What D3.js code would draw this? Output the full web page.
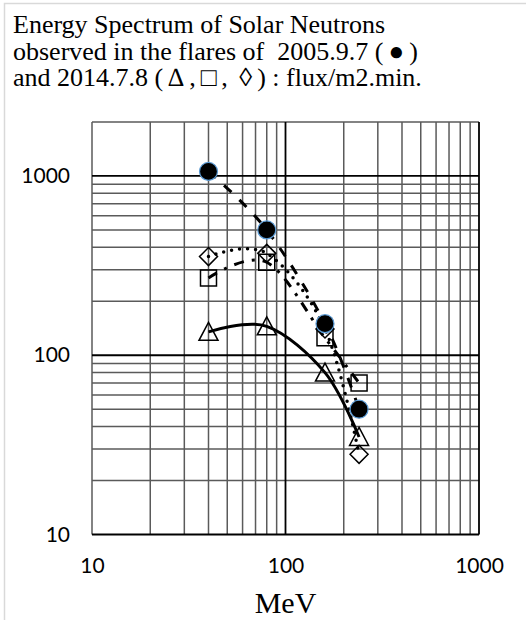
<!DOCTYPE html>
<html>
<head>
<meta charset="utf-8">
<script src="https://cdn.jsdelivr.net/npm/d3@7"></script>
<style>
  html, body { margin: 0; padding: 0; background: #fff; }
  svg { display: block; }
  .title { font-family: 'Liberation Serif', 'Times New Roman', serif; font-size: 26px; fill: #000; white-space: pre; }
  .tick text { font-family: Lato, 'Open Sans', sans-serif; font-size: 21px; fill: #000; }
  .x-title { font-family: 'Liberation Serif', 'Times New Roman', serif; font-size: 30px; fill: #000; }
</style>
</head>
<body>
<div id="chart"></div>
<script>
// energies (MeV) and fluxes (flux/m2.min)
const energy = [40, 80, 160, 240];
const flux2005 = [1060, 500, 150, 50];        // filled circles
const fluxTriangle = [135, 145, 80, 35];      // 2014.7.8, triangles
const fluxSquare = [270, 330, 125, 70];       // 2014.7.8, squares
const fluxDiamond = [355, 370, 140, 28];      // 2014.7.8, diamonds

const titleLines = [
  'Energy Spectrum of Solar Neutrons',
  'observed in the flares of  2005.9.7 (\u25CF)',
  'and 2014.7.8 (\u2206,\u25A1, \u25CA) : flux/m2.min.',
];
const xTickValues = [10, 100, 1000];
const yTickValues = [10, 100, 1000];
const xLabel = 'MeV';

const width = 526, height = 620;
const plot = { left: 92, right: 479, top: 122, bottom: 534.5 };

const svg = d3.select('#chart')
  .append('svg')
  .attr('width', width)
  .attr('height', height);

// chart area border (light grey, runs off the right/bottom edge)
svg.append('rect')
  .attr('x', 4.5)
  .attr('y', 3.5)
  .attr('width', width + 20)
  .attr('height', height + 20)
  .attr('fill', '#fff')
  .attr('stroke', '#d9d9d9')
  .attr('stroke-width', 1.5);

// title: the marker symbols are full-width glyphs in the original,
// so give them some room on both sides
const symbolRe = /([\u25CF\u2206\u25A1\u25CA])/;
const splitLine = (str) => {
  const parts = str.split(symbolRe).filter((s) => s !== '');
  return parts.map((s, i) => ({
    s,
    sym: symbolRe.test(s),
    afterSym: i > 0 && symbolRe.test(parts[i - 1]),
  }));
};

svg.append('g')
  .selectAll('text')
  .data(titleLines)
  .join('text')
  .attr('class', 'title')
  .attr('x', 13)
  .attr('y', (d, i) => 33 + i * 26.5)
  .selectAll('tspan')
  .data((d) => splitLine(d))
  .join('tspan')
  .attr('dx', (p) => (p.sym || p.afterSym ? 5 : 0))
  .text((p) => p.s);

const x = d3.scaleLog().domain([10, 1000]).range([plot.left, plot.right]);
const y = d3.scaleLog().domain([10, 2000]).range([plot.bottom, plot.top]);

const isMajor = (v) => Math.abs(Math.log10(v) - Math.round(Math.log10(v))) < 1e-9;

// grid: minor lines first, then the decades on top
const grid = svg.append('g').attr('class', 'grid');
const xGrid = x.ticks();
const yGrid = y.ticks();

grid.selectAll('line.vminor')
  .data(xGrid.filter((v) => !isMajor(v) || v === 10))
  .join('line')
  .attr('class', 'vminor')
  .attr('x1', (d) => x(d)).attr('x2', (d) => x(d))
  .attr('y1', plot.top).attr('y2', plot.bottom)
  .attr('stroke', '#5a5a5a')
  .attr('stroke-width', 1.5);

grid.selectAll('line.hminor')
  .data(yGrid.filter((v) => !isMajor(v)))
  .join('line')
  .attr('class', 'hminor')
  .attr('x1', plot.left).attr('x2', plot.right)
  .attr('y1', (d) => y(d)).attr('y2', (d) => y(d))
  .attr('stroke', '#5a5a5a')
  .attr('stroke-width', 1.5);

grid.selectAll('line.vmajor')
  .data(xGrid.filter((v) => isMajor(v) && v !== 10))
  .join('line')
  .attr('class', 'vmajor')
  .attr('x1', (d) => x(d)).attr('x2', (d) => x(d))
  .attr('y1', plot.top).attr('y2', plot.bottom)
  .attr('stroke', '#000')
  .attr('stroke-width', 1.8);

grid.selectAll('line.hmajor')
  .data(yGrid.filter((v) => isMajor(v)))
  .join('line')
  .attr('class', 'hmajor')
  .attr('x1', plot.left).attr('x2', plot.right)
  .attr('y1', (d) => y(d)).attr('y2', (d) => y(d))
  .attr('stroke', '#000')
  .attr('stroke-width', 1.8);

// axes (labels only)
svg.append('g')
  .attr('class', 'axis')
  .attr('transform', `translate(${plot.left},0)`)
  .call(d3.axisLeft(y).tickValues(yTickValues).tickFormat(d3.format('d')).tickSize(0).tickPadding(22))
  .call((g) => g.select('.domain').remove());

svg.append('g')
  .attr('class', 'axis')
  .attr('transform', `translate(0,${plot.bottom})`)
  .call(d3.axisBottom(x).tickValues(xTickValues).tickFormat(d3.format('d')).tickSize(0).tickPadding(23.5))
  .call((g) => g.select('.domain').remove());

svg.append('text')
  .attr('class', 'x-title')
  .attr('x', x(100))
  .attr('y', 613)
  .attr('text-anchor', 'middle')
  .text(xLabel);

// Excel-style smoothed lines
const line = d3.line()
  .x((d) => x(d[0]))
  .y((d) => y(d[1]))
  .curve(d3.curveCardinal.tension(0));

const series = [
  { values: fluxTriangle, marker: 'triangle', dash: null, cap: 'butt' },
  { values: fluxSquare, marker: 'square', dash: '10,8,3,8', cap: 'butt' },
  { values: fluxDiamond, marker: 'diamond', dash: '0,8', cap: 'round' },
  { values: flux2005, marker: 'circle', dash: '10,11', cap: 'butt' },
];

const markerPath = {
  triangle: 'M0,-9.5L9.5,8.5L-9.5,8.5Z',
  square: 'M-8,-8H8V8H-8Z',
  diamond: 'M0,-9L9,0L0,9L-9,0Z',
};

series.forEach((s) => {
  const pts = energy.map((e, i) => [e, s.values[i]]);
  const g = svg.append('g').attr('class', `series ${s.marker}`);

  g.append('path')
    .datum(pts)
    .attr('d', line)
    .attr('fill', 'none')
    .attr('stroke', '#000')
    .attr('stroke-width', s.marker === 'diamond' ? 3.5 : 3)
    .attr('stroke-linecap', s.cap)
    .attr('stroke-dasharray', s.dash);

  if (s.marker === 'circle') {
    g.selectAll('circle')
      .data(pts)
      .join('circle')
      .attr('cx', (d) => x(d[0]))
      .attr('cy', (d) => y(d[1]))
      .attr('r', 9)
      .attr('fill', '#000')
      .attr('stroke', '#5b9bd5')
      .attr('stroke-width', 1.2);
  } else {
    g.selectAll('path.marker')
      .data(pts)
      .join('path')
      .attr('class', 'marker')
      .attr('transform', (d) => `translate(${x(d[0])},${y(d[1])})`)
      .attr('d', markerPath[s.marker])
      .attr('fill', 'none')
      .attr('stroke', '#000')
      .attr('stroke-width', 1.5);
  }
});
</script>
</body>
</html>
